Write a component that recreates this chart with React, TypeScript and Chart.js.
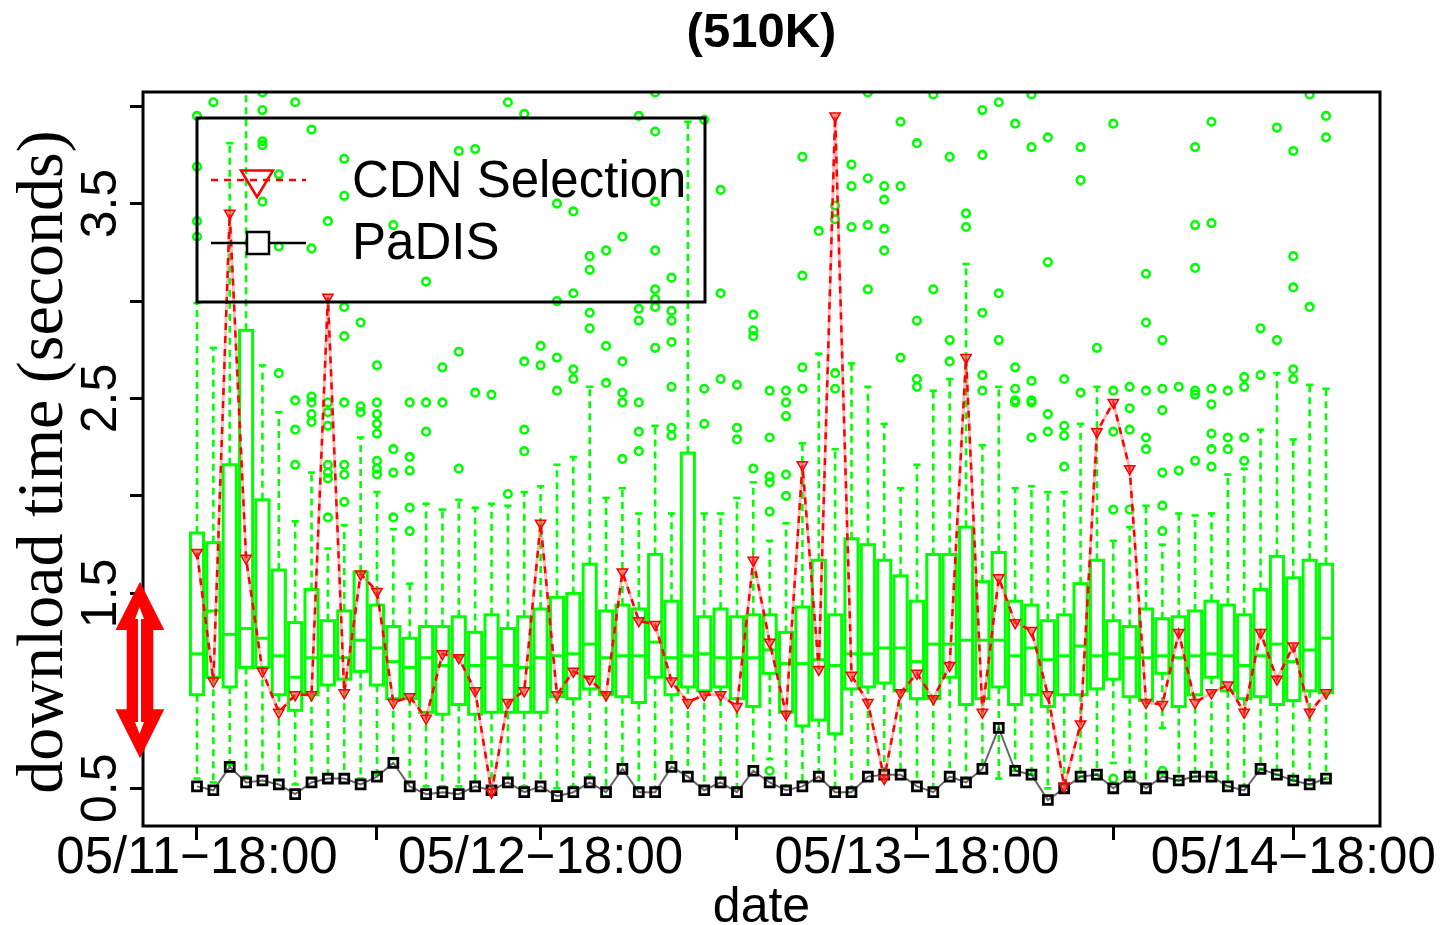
import React, { useEffect, useRef } from 'react';
import { Chart, registerables } from 'chart.js';

Chart.register(...registerables);

// ---------- text ----------
const titleText = '(510K)';
const xAxisTitle = 'date';
const yAxisTitle = 'download time (seconds)';
const seriesNames = ['CDN Selection', 'PaDIS'];

// ---------- axes ----------
const xTickIndex = [0, 11, 21, 33, 44, 56, 67];
const xTickLabels = ['05/11\u221218:00', '', '05/12\u221218:00', '', '05/13\u221218:00', '', '05/14\u221218:00'];
const yTickValues = [0.5, 1, 1.5, 2, 2.5, 3, 3.5, 4];
const yTickLabels = ['0.5', '', '1.5', '', '2.5', '', '3.5', ''];

// ---------- box plot statistics (one entry per time slot) ----------
const whiskerHigh = [
  2.99, 2.76, 3.81, 4.30, 2.67, 2.43, 1.87, 2.12, 1.73, 1.85,
  2.30, 2.02, 1.83, 1.55, 1.96, 1.93, 1.98, 1.94, 1.96, 1.95,
  2.02, 2.05, 2.16, 2.20, 2.56, 1.99, 2.04, 1.91, 2.36, 1.91,
  3.92, 1.91, 1.91, 1.99, 2.07, 1.77, 1.86, 2.27, 2.73, 2.24,
  2.68, 2.56, 2.37, 2.04, 2.16, 2.54, 2.60, 3.19, 2.26, 2.56,
  2.04, 2.05, 2.02, 2.02, 2.37, 2.56, 1.77, 1.84, 1.95, 1.75,
  1.91, 1.90, 1.91, 2.11, 2.14, 2.34, 2.63, 2.29, 2.57, 2.55,
];
const upperQuartile = [
  1.81, 1.76, 2.16, 2.85, 1.98, 1.62, 1.35, 1.52, 1.36, 1.41,
  1.61, 1.44, 1.33, 1.27, 1.33, 1.33, 1.38, 1.30, 1.39, 1.32,
  1.38, 1.42, 1.48, 1.50, 1.65, 1.41, 1.44, 1.42, 1.70, 1.46,
  2.22, 1.38, 1.42, 1.38, 1.39, 1.39, 1.30, 1.43, 1.67, 1.39,
  1.78, 1.75, 1.67, 1.59, 1.46, 1.70, 1.70, 1.84, 1.56, 1.71,
  1.46, 1.44, 1.36, 1.39, 1.55, 1.67, 1.36, 1.33, 1.42, 1.37,
  1.38, 1.41, 1.46, 1.44, 1.39, 1.52, 1.69, 1.58, 1.67, 1.65,
];
const median = [
  1.19, 1.41, 1.29, 1.32, 1.27, 1.18, 1.07, 1.17, 1.18, 1.17,
  1.26, 1.22, 1.15, 1.12, 1.17, 1.13, 1.18, 1.13, 1.17, 1.13,
  1.12, 1.17, 1.18, 1.19, 1.24, 1.17, 1.18, 1.18, 1.25, 1.17,
  1.18, 1.19, 1.17, 1.17, 1.17, 1.21, 1.14, 1.14, 1.16, 1.13,
  1.19, 1.19, 1.22, 1.22, 1.15, 1.24, 1.24, 1.26, 1.26, 1.26,
  1.18, 1.22, 1.16, 1.18, 1.23, 1.18, 1.19, 1.17, 1.17, 1.18,
  1.17, 1.18, 1.19, 1.18, 1.13, 1.18, 1.24, 1.15, 1.21, 1.27,
];
const lowerQuartile = [
  0.98, 1.07, 1.02, 1.12, 1.12, 0.98, 0.90, 0.98, 1.03, 1.06,
  1.10, 1.03, 0.96, 0.96, 0.89, 0.88, 0.93, 0.88, 0.89, 0.89,
  0.89, 0.89, 0.97, 0.96, 1.01, 0.98, 0.97, 0.94, 1.07, 0.98,
  1.02, 1.00, 1.02, 0.96, 0.92, 1.09, 0.89, 0.82, 0.85, 0.78,
  1.01, 1.02, 1.04, 1.00, 0.96, 0.96, 1.07, 0.93, 0.96, 1.02,
  0.93, 0.98, 0.92, 0.98, 0.98, 1.01, 1.06, 0.97, 0.95, 1.09,
  0.92, 0.98, 1.07, 1.00, 0.96, 0.97, 0.93, 0.95, 1.00, 0.99,
];
const whiskerLow = [
  0.55, 0.53, 0.62, 0.56, 0.56, 0.54, 0.52, 0.55, 0.57, 0.57,
  0.55, 0.57, 0.65, 0.53, 0.51, 0.51, 0.51, 0.53, 0.51, 0.55,
  0.51, 0.53, 0.50, 0.51, 0.56, 0.50, 0.62, 0.50, 0.50, 0.63,
  0.58, 0.51, 0.55, 0.50, 0.61, 0.65, 0.51, 0.53, 0.58, 0.50,
  0.50, 0.58, 0.59, 0.59, 0.53, 0.50, 0.58, 0.55, 0.62, 0.55,
  0.59, 0.57, 0.50, 0.52, 0.56, 0.57, 0.63, 0.56, 0.52, 0.81,
  0.54, 0.56, 0.56, 0.51, 0.51, 0.60, 0.57, 0.54, 0.52, 0.55,
];
const outliers: number[][] = [
  [3.95, 3.69, 3.41, 3.33], [4.02], [], [], [4.07, 3.98, 3.82, 3.80, 3.51],
  [3.65, 3.28, 2.63], [4.02, 2.49, 2.34, 2.16], [3.88, 3.27, 2.51, 2.48, 2.42, 2.38],
  [3.41, 2.48, 2.43, 2.36, 2.16, 2.12, 2.09, 1.89], [3.73, 3.54, 2.97, 2.82, 2.48, 2.16, 2.11, 1.97],
  [2.89, 2.46, 2.43], [2.67, 2.48, 2.42, 2.37, 2.32, 2.18, 2.14, 2.11], [3.39, 2.24, 2.12, 1.89],
  [2.48, 2.20, 2.13, 1.94, 1.82], [3.10, 2.48, 2.33], [2.66, 2.48], [3.77, 2.74, 2.14], [3.78, 2.53],
  [2.52], [4.02, 2.01], [3.96, 2.69, 2.34, 2.23], [2.77, 2.67], [3.50, 3.00, 2.71, 2.54],
  [3.46, 3.04, 2.65, 2.60], [3.23, 3.16, 2.94, 2.86], [3.26, 2.77, 2.58], [3.33, 2.69, 2.53, 2.48, 2.19],
  [3.95, 2.96, 2.90, 2.48, 2.33, 2.23], [4.07, 3.87, 3.51, 3.26, 3.06, 3.01, 2.97, 2.76],
  [3.12, 2.95, 2.90, 2.79, 2.56, 2.35, 2.31], [], [3.93, 2.55, 2.37], [3.57, 3.04, 2.60],
  [2.57, 2.35, 2.29], [2.93, 2.85, 2.82, 2.14], [2.54, 2.30, 2.10, 2.07, 1.92, 0.59],
  [2.54, 2.48, 2.41, 2.11, 2.00], [3.74, 3.13, 2.66, 2.55], [3.36], [3.49, 3.42, 2.63, 2.55],
  [3.70, 3.59, 3.38], [4.07, 3.63, 3.39, 3.06], [3.59, 3.52, 3.37, 3.26], [3.92, 3.59, 2.71],
  [3.81, 2.90, 2.60, 2.56], [4.06, 3.06], [3.74, 2.80, 2.69], [3.45, 3.38], [3.98, 3.75, 2.94, 2.62, 2.54],
  [4.02, 3.04, 2.80], [3.91, 2.66, 2.55, 2.49, 2.48], [4.06, 3.79, 2.59, 2.49, 2.48, 2.30],
  [3.84, 3.20, 2.42, 2.33], [2.60, 2.36, 2.31, 2.15], [3.79, 3.62, 2.53], [2.76],
  [3.91, 2.54, 2.33, 1.93, 0.55], [2.56, 2.45, 2.34, 1.93], [3.14, 2.89, 2.54, 2.30, 2.24],
  [2.80, 2.55, 2.44, 2.12, 1.95, 1.82, 0.59], [2.56, 2.13], [3.79, 3.39, 3.17, 2.54, 2.52, 2.18],
  [3.92, 3.40, 2.55, 2.47, 2.32, 2.24, 2.15], [2.54, 2.30, 2.24], [2.61, 2.56, 2.30, 2.18],
  [2.86, 2.62], [3.89, 2.80], [3.77, 3.23, 3.07, 2.65, 2.60], [4.06, 2.97], [3.95, 3.84],
];

// ---------- line series ----------
const cdnSelection = [
  1.71, 1.05, 3.45, 1.68, 1.10, 0.89, 0.98, 0.98, 3.02, 0.99,
  1.60, 1.51, 0.94, 0.97, 0.86, 1.19, 1.17, 1.00, 0.48, 0.94,
  1.00, 1.86, 0.98, 1.10, 1.06, 0.98, 1.61, 1.36, 1.34, 1.05,
  0.94, 0.98, 0.98, 0.92, 1.67, 1.25, 0.88, 2.16, 1.11, 3.95,
  1.08, 0.94, 0.55, 0.99, 1.09, 0.96, 1.13, 2.71, 0.89, 1.58,
  1.35, 1.31, 0.98, 0.51, 0.83, 2.33, 2.48, 2.14, 0.94, 0.93,
  1.30, 0.94, 0.99, 1.03, 0.89, 1.30, 1.06, 1.23, 0.89, 0.99,
];
const padis = [
  0.51, 0.49, 0.61, 0.53, 0.54, 0.52, 0.47, 0.53, 0.55, 0.55,
  0.52, 0.56, 0.63, 0.51, 0.47, 0.48, 0.47, 0.51, 0.49, 0.53,
  0.48, 0.51, 0.46, 0.48, 0.53, 0.48, 0.60, 0.48, 0.48, 0.61,
  0.56, 0.49, 0.53, 0.48, 0.59, 0.53, 0.49, 0.51, 0.56, 0.48,
  0.48, 0.56, 0.57, 0.57, 0.51, 0.48, 0.56, 0.53, 0.60, 0.81,
  0.59, 0.57, 0.44, 0.50, 0.56, 0.57, 0.50, 0.56, 0.50, 0.56,
  0.54, 0.56, 0.56, 0.51, 0.49, 0.60, 0.57, 0.54, 0.52, 0.55,
];

const GREEN = '#00ff00';
const RED = '#ff0000';
const SANS = "'Liberation Sans', Arial, sans-serif";
const SERIF = "'Liberation Serif', 'Times New Roman', serif";

const boxPlugin = {
  id: 'boxes',
  beforeDatasetsDraw(chart: any) {
    const { ctx, chartArea: a, scales } = chart;
    const x = scales.x;
    const y = scales.y;
    const unit = x.getPixelForValue(1) - x.getPixelForValue(0);
    const bw = unit * 0.8;
    const sw = bw * 0.55;
    const line = (x1: number, y1: number, x2: number, y2: number) => {
      ctx.beginPath();
      ctx.moveTo(x1, y1);
      ctx.lineTo(x2, y2);
      ctx.stroke();
    };
    ctx.save();
    ctx.beginPath();
    ctx.rect(a.left, a.top, a.right - a.left, a.bottom - a.top);
    ctx.clip();
    ctx.strokeStyle = GREEN;
    for (let i = 0; i < median.length; i++) {
      const cx = x.getPixelForValue(i);
      const pHi = y.getPixelForValue(whiskerHigh[i]);
      const pQ3 = y.getPixelForValue(upperQuartile[i]);
      const pMed = y.getPixelForValue(median[i]);
      const pQ1 = y.getPixelForValue(lowerQuartile[i]);
      const pLo = y.getPixelForValue(whiskerLow[i]);
      ctx.lineWidth = 2.6;
      ctx.setLineDash([7, 5]);
      line(cx, pQ3, cx, pHi);
      line(cx, pQ1, cx, pLo);
      ctx.setLineDash([]);
      line(cx - sw / 2, pHi, cx + sw / 2, pHi);
      line(cx - sw / 2, pLo, cx + sw / 2, pLo);
      ctx.lineWidth = 3;
      ctx.strokeRect(cx - bw / 2, pQ3, bw, pQ1 - pQ3);
      line(cx - bw / 2, pMed, cx + bw / 2, pMed);
    }
    ctx.restore();
  },
};

const decorPlugin = {
  id: 'decor',
  afterDraw(chart: any) {
    const { ctx, chartArea: a, scales } = chart;
    const x = scales.x;
    const y = scales.y;
    const cxMid = (a.left + a.right) / 2;
    ctx.save();
    // frame
    ctx.strokeStyle = '#000';
    ctx.lineWidth = 3;
    ctx.strokeRect(a.left, a.top, a.right - a.left, a.bottom - a.top);

    ctx.fillStyle = '#000';
    // title
    ctx.font = `bold 49px ${SANS}`;
    ctx.textAlign = 'center';
    ctx.textBaseline = 'alphabetic';
    ctx.fillText(titleText, cxMid, 47);

    // x tick labels
    ctx.font = `51px ${SANS}`;
    xTickIndex.forEach((v, k) => {
      if (!xTickLabels[k]) return;
      ctx.fillText(xTickLabels[k], x.getPixelForValue(v), a.bottom + 47);
    });
    // x title
    ctx.font = `50px ${SANS}`;
    ctx.fillText(xAxisTitle, cxMid, 922);

    // y tick labels (rotated)
    yTickValues.forEach((v, k) => {
      if (!yTickLabels[k]) return;
      ctx.save();
      ctx.translate(a.left - 27, y.getPixelForValue(v));
      ctx.rotate(-Math.PI / 2);
      ctx.font = `50px ${SANS}`;
      ctx.textAlign = 'center';
      ctx.fillText(yTickLabels[k], 0, 0);
      ctx.restore();
    });
    // y title
    ctx.save();
    ctx.translate(62, 462);
    ctx.rotate(-Math.PI / 2);
    ctx.font = `66px ${SERIF}`;
    ctx.textAlign = 'center';
    ctx.fillText(yAxisTitle, 0, 0);
    ctx.restore();

    // legend
    const lx = a.left + 54;
    const ly = a.top + 26;
    ctx.lineWidth = 3;
    ctx.strokeStyle = '#000';
    ctx.strokeRect(lx, ly, 508, 184);
    // CDN sample
    const r1 = ly + 62;
    ctx.strokeStyle = RED;
    ctx.lineWidth = 2.5;
    ctx.setLineDash([7, 6]);
    ctx.beginPath();
    ctx.moveTo(lx + 14, r1);
    ctx.lineTo(lx + 109, r1);
    ctx.stroke();
    ctx.setLineDash([]);
    ctx.beginPath();
    ctx.moveTo(lx + 44, r1 - 9.5);
    ctx.lineTo(lx + 76, r1 - 9.5);
    ctx.lineTo(lx + 60, r1 + 17);
    ctx.closePath();
    ctx.stroke();
    // PaDIS sample
    const r2 = ly + 125;
    ctx.strokeStyle = '#000';
    ctx.beginPath();
    ctx.moveTo(lx + 14, r2);
    ctx.lineTo(lx + 109, r2);
    ctx.stroke();
    ctx.fillStyle = '#fff';
    ctx.fillRect(lx + 50, r2 - 11, 22, 22);
    ctx.strokeRect(lx + 50, r2 - 11, 22, 22);
    ctx.fillStyle = '#000';
    ctx.font = `51px ${SANS}`;
    ctx.textAlign = 'left';
    ctx.fillText(seriesNames[0], lx + 155, r1 + 17);
    ctx.fillText(seriesNames[1], lx + 155, r2 + 16);

    // red double arrow annotation
    ctx.fillStyle = RED;
    ctx.beginPath();
    ctx.moveTo(140, 581.7);
    ctx.lineTo(164.3, 630);
    ctx.lineTo(153.3, 630);
    ctx.lineTo(153.3, 709.3);
    ctx.lineTo(164.3, 709.3);
    ctx.lineTo(140, 758.3);
    ctx.lineTo(115.5, 709.3);
    ctx.lineTo(126.7, 709.3);
    ctx.lineTo(126.7, 630);
    ctx.lineTo(115.5, 630);
    ctx.closePath();
    ctx.fill();
    ctx.strokeStyle = '#fff';
    ctx.fillStyle = '#fff';
    ctx.lineWidth = 3;
    ctx.beginPath();
    ctx.moveTo(139.5, 614);
    ctx.lineTo(139.5, 727);
    ctx.stroke();
    ctx.beginPath();
    ctx.moveTo(139.5, 607);
    ctx.lineTo(144, 619);
    ctx.lineTo(135, 619);
    ctx.closePath();
    ctx.fill();
    ctx.beginPath();
    ctx.moveTo(139.5, 734);
    ctx.lineTo(144, 722);
    ctx.lineTo(135, 722);
    ctx.closePath();
    ctx.fill();
    ctx.restore();
  },
};

export default function App() {
  const ref = useRef<HTMLCanvasElement>(null);
  useEffect(() => {
    const canvas = ref.current;
    if (!canvas) return;
    const idx = median.map((_, i) => i);
    const outlierPts = outliers.flatMap((vals, i) => vals.map((v) => ({ x: i, y: v })));
    const cdnPts = idx.map((i) => ({ x: i, y: cdnSelection[i] }));
    const padisPts = idx.map((i) => ({ x: i, y: padis[i] }));
    const chart = new Chart(canvas, {
      type: 'scatter',
      data: {
        datasets: [
          {
            label: 'outliers',
            data: outlierPts,
            showLine: false,
            pointStyle: 'circle',
            pointRadius: 3.8,
            pointBorderWidth: 2.6,
            pointBorderColor: GREEN,
            pointBackgroundColor: 'rgba(0,0,0,0)',
            order: 4,
            clip: 0,
          },
          {
            label: seriesNames[1],
            data: padisPts,
            showLine: true,
            borderColor: 'rgba(0,0,0,0.6)',
            borderWidth: 2,
            pointStyle: 'rect',
            pointRadius: 6.3,
            pointBorderColor: '#000',
            pointBorderWidth: 2.8,
            pointBackgroundColor: 'rgba(0,0,0,0)',
            order: 3,
            clip: 0,
          },
          {
            label: 'cdn-under',
            data: cdnPts,
            showLine: true,
            borderColor: 'rgba(255,90,90,0.45)',
            borderWidth: 2.8,
            pointRadius: 0,
            order: 2,
            clip: 0,
          },
          {
            label: seriesNames[0],
            data: cdnPts,
            showLine: true,
            borderColor: RED,
            borderWidth: 2.5,
            borderDash: [7, 6],
            pointStyle: 'triangle',
            pointRotation: 180,
            pointRadius: 6,
            pointBorderColor: RED,
            pointBorderWidth: 1.5,
            pointBackgroundColor: 'rgba(255,60,60,0.55)',
            order: 1,
            clip: 0,
          },
        ],
      } as any,
      options: {
        responsive: false,
        animation: false,
        devicePixelRatio: 1,
        events: [],
        layout: { padding: { left: 143, right: 63, top: 92, bottom: 99 } },
        plugins: {
          legend: { display: false },
          title: { display: false },
          tooltip: { enabled: false },
        },
        scales: {
          x: {
            type: 'linear',
            position: 'bottom',
            min: -3.3,
            max: 72.3,
            afterFit: (s: any) => {
              s.height = 0;
            },
            afterBuildTicks: (s: any) => {
              s.ticks = xTickIndex.map((v) => ({ value: v }));
            },
            ticks: { display: false },
            grid: { drawOnChartArea: false, drawTicks: true, tickLength: 14, color: '#000', lineWidth: 3 },
            border: { display: false },
          },
          y: {
            type: 'linear',
            position: 'left',
            min: 0.3066,
            max: 4.0726,
            afterFit: (s: any) => {
              s.width = 0;
            },
            afterBuildTicks: (s: any) => {
              s.ticks = yTickValues.map((v) => ({ value: v }));
            },
            ticks: { display: false },
            grid: { drawOnChartArea: false, drawTicks: true, tickLength: 13, color: '#000', lineWidth: 3 },
            border: { display: false },
          },
        },
      } as any,
      plugins: [boxPlugin, decorPlugin],
    });
    return () => chart.destroy();
  }, []);

  return (
    <div style={{ position: 'absolute', left: 0, top: 0, width: 1443, height: 925, background: '#fff' }}>
      <canvas ref={ref} width={1443} height={925} style={{ display: 'block', width: 1443, height: 925 }} />
    </div>
  );
}
